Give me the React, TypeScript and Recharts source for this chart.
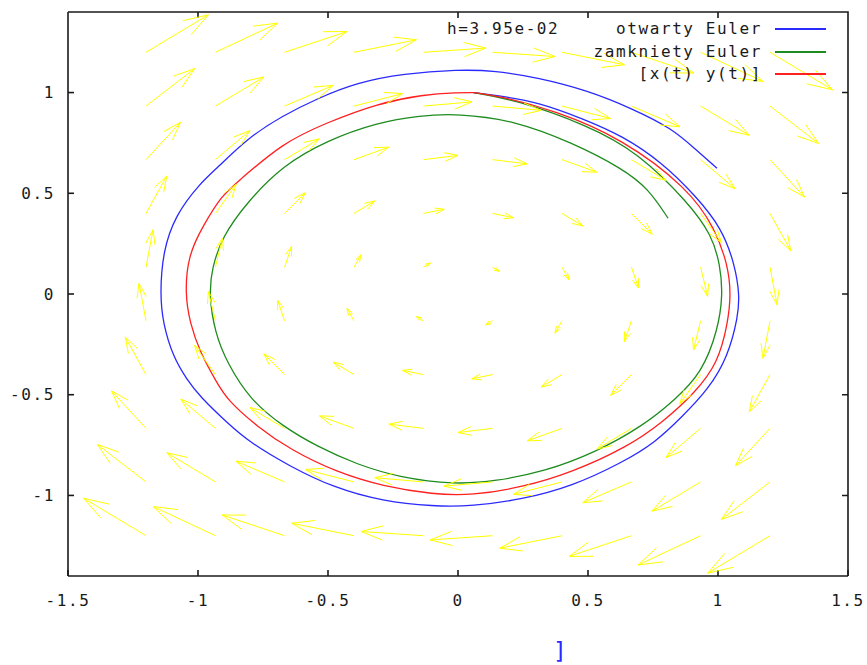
import { LineChart, Line, XAxis, YAxis, Legend } from "recharts";

const xTicks = [-1.5, -1, -0.5, 0, 0.5, 1, 1.5];
const yTicks = [-1, -0.5, 0, 0.5, 1];
const xDomain: [number, number] = [-1.5, 1.5];
const yDomain: [number, number] = [-1.4, 1.4];
const stepLabel = "h=3.95e-02";

// pole wektorowe: siatka 10x10, dx zalezy od wiersza, dy od kolumny
const arrowGridX = [-1.2, -0.933, -0.667, -0.4, -0.133, 0.133, 0.4, 0.667, 0.933, 1.2];
const arrowGridY = [-1.2, -0.933, -0.667, -0.4, -0.133, 0.133, 0.4, 0.667, 0.933, 1.2];
const arrowDxByRow = [-0.24, -0.187, -0.133, -0.08, -0.027, 0.027, 0.08, 0.133, 0.187, 0.24];
const arrowDyByCol = [0.186, 0.145, 0.103, 0.062, 0.021, -0.021, -0.062, -0.103, -0.145, -0.186];

const otwartyEuler: [number, number][] = [
  [0.06, 1.0], [0.154, 0.985], [0.31, 0.952], [0.477, 0.872], [0.631, 0.787], [0.785, 0.653],
  [0.912, 0.49], [1.015, 0.327], [1.065, 0.144], [1.083, -0.005], [1.077, -0.114], [1.038, -0.312],
  [0.962, -0.475], [0.862, -0.609], [0.758, -0.738], [0.631, -0.837], [0.438, -0.955], [0.246, -1.02],
  [0.054, -1.054], [-0.096, -1.054], [-0.288, -1.03], [-0.481, -0.96], [-0.646, -0.856], [-0.8, -0.738],
  [-0.888, -0.639], [-0.992, -0.51], [-1.042, -0.426], [-1.096, -0.312], [-1.135, -0.144], [-1.146, 0.0],
  [-1.135, 0.21], [-1.088, 0.39], [-0.992, 0.55], [-0.927, 0.624], [-0.812, 0.772], [-0.673, 0.886],
  [-0.542, 0.97], [-0.388, 1.05], [-0.21, 1.094], [0.0, 1.114], [0.142, 1.109], [0.308, 1.074],
  [0.5, 1.01], [0.669, 0.921], [0.823, 0.822], [0.912, 0.72], [0.996, 0.624],
];

const zamknietyEuler: [number, number][] = [
  [0.06, 1.0], [0.219, 0.965], [0.5, 0.837], [0.692, 0.703], [0.885, 0.455], [0.977, 0.292],
  [1.008, 0.144], [1.019, 0.0], [1.0, -0.178], [0.938, -0.391], [0.835, -0.525], [0.708, -0.658],
  [0.527, -0.787], [0.335, -0.881], [0.142, -0.93], [-0.012, -0.946], [-0.223, -0.911], [-0.388, -0.847],
  [-0.542, -0.757], [-0.673, -0.658], [-0.8, -0.525], [-0.888, -0.342], [-0.935, -0.193], [-0.958, 0.0],
  [-0.946, 0.129], [-0.908, 0.282], [-0.812, 0.455], [-0.673, 0.639], [-0.504, 0.762], [-0.312, 0.851],
  [-0.146, 0.886], [0.0, 0.896], [0.219, 0.861], [0.438, 0.752], [0.631, 0.624], [0.731, 0.525],
  [0.808, 0.376],
];

const dokladne: [number, number][] = [
  [0.06, 1.0], [0.154, 0.985], [0.373, 0.911], [0.631, 0.772], [0.885, 0.525], [0.988, 0.327],
  [1.038, 0.144], [1.05, 0.0], [1.038, -0.144], [1.0, -0.342], [0.912, -0.49], [0.785, -0.639],
  [0.654, -0.757], [0.438, -0.886], [0.246, -0.96], [0.054, -1.0], [-0.096, -0.995], [-0.288, -0.955],
  [-0.465, -0.886], [-0.646, -0.772], [-0.773, -0.658], [-0.888, -0.525], [-0.927, -0.441], [-0.992, -0.292],
  [-1.031, -0.144], [-1.05, 0.0], [-1.038, 0.193], [-0.98, 0.34], [-0.908, 0.49], [-0.85, 0.554],
  [-0.673, 0.752], [-0.504, 0.851], [-0.312, 0.945], [-0.135, 0.99], [0.0, 1.0], [0.06, 1.0],
];

const seriesNames = ["otwarty Euler", "zamkniety Euler", "[x(t) y(t)]"];
const seriesColors = ["#2a2aff", "#1e8c1e", "#ff2020"];
const seriesPoints = [otwartyEuler, zamknietyEuler, dokladne];

const MONO = "'DejaVu Sans Mono', monospace";
const YELLOW = "#ffff00";
const BORDER = "#1a1a1a";

const toRows = (pts: [number, number][]) => pts.map(([x, y]) => ({ x, y }));

// kazda strzalka: ogon, grot, przerwa (null)
const arrowData: { x: number; y: number | null; role: string }[] = [];
arrowGridY.forEach((y, r) => {
  arrowGridX.forEach((x, c) => {
    arrowData.push({ x, y, role: "tail" });
    arrowData.push({ x: x + arrowDxByRow[r], y: y + arrowDyByCol[c], role: "head" });
    arrowData.push({ x: x + arrowDxByRow[r], y: null, role: "gap" });
  });
});

// gorna i prawa krawedz ramki + kreski podzialki do wewnatrz (gnuplot)
const topTickLen = 0.03;
const rightTickLen = 0.023;
const frameData: { x: number; y: number | null }[] = [
  { x: xDomain[0], y: yDomain[1] },
  { x: xDomain[1], y: yDomain[1] },
  { x: xDomain[1], y: yDomain[0] },
  { x: xDomain[1], y: null },
];
xTicks.slice(1, -1).forEach((t) => {
  frameData.push({ x: t, y: yDomain[1] }, { x: t, y: yDomain[1] - topTickLen }, { x: t, y: null });
});
yTicks.forEach((t) => {
  frameData.push({ x: xDomain[1], y: t }, { x: xDomain[1] - rightTickLen, y: t }, { x: xDomain[1], y: null });
});

const ArrowHead = (props: any) => {
  const { cx, cy, index, points, payload } = props;
  if (!payload || payload.role !== "head" || !points || index < 1 || cx == null || cy == null) {
    return <g key={`a${index}`} />;
  }
  const tail = points[index - 1];
  const vx = cx - tail.x;
  const vy = cy - tail.y;
  const len = Math.hypot(vx, vy);
  if (len < 0.5) return <g key={`a${index}`} />;
  const hl = Math.min(0.32 * len + 3, 0.7 * len);
  const ang = Math.atan2(vy, vx);
  const a = (18 * Math.PI) / 180;
  const p1x = cx - hl * Math.cos(ang - a);
  const p1y = cy - hl * Math.sin(ang - a);
  const p2x = cx - hl * Math.cos(ang + a);
  const p2y = cy - hl * Math.sin(ang + a);
  return (
    <path
      key={`a${index}`}
      d={`M${p1x},${p1y}L${cx},${cy}L${p2x},${p2y}`}
      stroke={YELLOW}
      strokeWidth={1}
      fill="none"
    />
  );
};

const renderKey = () => (
  <div style={{ position: "relative", width: 867, height: 90, fontFamily: MONO, fontSize: 16, letterSpacing: "1.6px", color: BORDER }}>
    <div style={{ position: "absolute", left: 447, top: 19, lineHeight: "20px", whiteSpace: "pre" }}>{stepLabel}</div>
    {seriesNames.map((name, i) => (
      <div key={name}>
        <div style={{ position: "absolute", right: 105, top: 19 + 22.5 * i, lineHeight: "20px", whiteSpace: "pre" }}>{name}</div>
        <div style={{ position: "absolute", left: 775, top: Math.round(28 + 22.5 * i), width: 51, height: 1.5, background: seriesColors[i] }} />
      </div>
    ))}
  </div>
);

const axisStroke = { stroke: BORDER, strokeWidth: 1.6 };
const tickStyle = { fontFamily: MONO, fontSize: 16, fill: BORDER, letterSpacing: 1.6 };

export default function App() {
  return (
    <div style={{ position: "absolute", left: 0, top: 0, width: 867, height: 665, background: "#fff" }}>
      <LineChart width={867} height={665} margin={{ top: 12, right: 19, bottom: 49, left: 0 }}>
        <XAxis dataKey="x" type="number" domain={xDomain} ticks={xTicks}
          height={40} tickSize={-6} tickMargin={25} axisLine={axisStroke} tickLine={axisStroke}
          tick={tickStyle} tickFormatter={(v) => String(v)} />
        <YAxis dataKey="y" type="number" domain={yDomain} ticks={yTicks}
          width={68} tickSize={-6} tickMargin={19} axisLine={axisStroke} tickLine={axisStroke}
          tick={tickStyle} tickFormatter={(v) => String(v)} />
        {seriesPoints.map((pts, i) => (
          <Line key={seriesNames[i]} name={seriesNames[i]} data={toRows(pts)} dataKey="y" type="basis"
            stroke={seriesColors[i]} strokeWidth={1.3} dot={false} activeDot={false} isAnimationActive={false} />
        ))}
        <Line data={arrowData} dataKey="y" type="linear" stroke={YELLOW} strokeWidth={1}
          dot={ArrowHead} activeDot={false} connectNulls={false} isAnimationActive={false} legendType="none" />
        <Line data={frameData} dataKey="y" type="linear" stroke={BORDER} strokeWidth={1.6}
          dot={false} activeDot={false} connectNulls={false} isAnimationActive={false} legendType="none" />
        <Legend layout="vertical" align="center" verticalAlign="middle" content={renderKey}
          wrapperStyle={{ left: 0, top: 0, width: 867, height: 90 }} />
      </LineChart>
      <div style={{ position: "absolute", left: 553, top: 639, fontFamily: MONO, fontSize: 23, color: "#2a2aff", lineHeight: "24px" }}>]</div>
    </div>
  );
}
